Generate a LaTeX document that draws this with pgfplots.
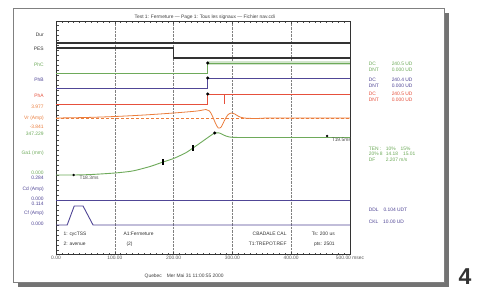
\documentclass[border=0pt]{standalone}
\usepackage{pgfplots}
\pgfplotsset{compat=1.18}
\usepackage{fontspec}
\setmainfont{Liberation Sans}
\definecolor{cgreen}{RGB}{110,170,90}
\definecolor{cpurple}{RGB}{80,70,150}
\definecolor{cred}{RGB}{230,80,60}
\definecolor{corange}{RGB}{235,125,60}
\newcommand{\sm}{\fontsize{4.9}{5.6}\selectfont}
\begin{document}
\begin{tikzpicture}
\path (0pt,0pt) rectangle (479pt,-289pt);
\fill[black!55] (18pt,-13pt) rectangle (449pt,-287pt);
\fill[white] (13pt,-8pt) rectangle (444pt,-282pt);
\draw[black!50, line width=0.6pt] (13pt,-8pt) rectangle (444pt,-282pt);
\node[font=\fontsize{23}{23}\selectfont\bfseries, text=black!80, inner sep=0pt] at (465pt,-277pt) {4};
\begin{axis}[
 scale only axis, width=294pt, height=233pt,
 at={(56pt,-21pt)}, anchor=north west,
 xmin=0, xmax=500, ymin=21, ymax=254, y dir=reverse,
 clip=false,
 axis line style={black!80, line width=0.9pt},
 xtick={0,100,...,500},
 xticklabels={0.00,100.00,200.00,300.00,400.00,500.00 msec},
 minor x tick num=9,
 xtick pos=both, xticklabel pos=bottom,
 xmajorgrids, major grid style={densely dotted, black!50, line width=0.5pt},
 ytick={25,30,...,250}, yticklabels={}, ytick pos=left,
 tick style={black!70, line width=0.4pt},
 major tick length=2.5pt, minor tick length=1.5pt,
 tick label style={font=\sm, text=black!65},
 xticklabel style={yshift=1pt},
]
% digital traces
\addplot[black!80, line width=1.2pt] coordinates {(0,43) (500,43)};
\addplot[black!80, line width=1.2pt] coordinates {(0,48) (200,48) (200,58) (500,58)};
\addplot[cgreen!30, line width=4pt] coordinates {(258,63) (500,63)};
\addplot[cgreen, line width=0.9pt] coordinates {(0,73) (258,73) (258,63) (500,63)};
\addplot[cpurple, line width=0.9pt] coordinates {(0,88) (258,88) (258,78) (500,78)};
\addplot[cred, line width=0.9pt] coordinates {(0,104) (258,104) (258,94) (500,94)};
\addplot[cred, line width=0.9pt] coordinates {(287,94) (287,104)};
\addplot[black, only marks, mark=*, mark size=1.4pt] coordinates {(258,63) (258,78) (258,94) (270,133)};
% Vr
\addplot[corange, densely dashed, line width=0.5pt] coordinates {(0,118) (500,118)};
\addplot[corange, line width=0.8pt, smooth, tension=0.5] coordinates {
(0,118) (50,117.5) (100,116.5) (150,115) (200,113) (240,111) (255,109.5)
(261,111) (266,116) (271,123) (276,128) (281,127) (286,121) (292,115)
(298,113) (304,114) (311,116.5) (320,118) (340,118.5) (360,118) (400,118) (500,118)};
% Ga1 travel
\addplot[cgreen, line width=0.9pt, smooth, tension=0.4] coordinates {
(0,175) (30,175) (60,174.5) (100,173) (130,171) (160,166.5) (182,162) (200,158.5)
(220,153) (233,148) (250,141) (262,136) (270,133) (278,133) (285,135) (295,137)
(320,137.5) (500,137.5)};
\addplot[black, only marks, mark=|, mark size=3pt, line width=1.2pt] coordinates {(182,162) (233,148)};
\addplot[black, only marks, mark=*, mark size=1pt] coordinates {(30,175) (461,136)};
% Cd and Cf
\addplot[cpurple, line width=0.9pt] coordinates {(0,200) (500,200)};
\addplot[cpurple, line width=0.9pt] coordinates {(0,225) (19,225) (31,206) (46,206) (63,225) (500,225)};
% markers text
\node[anchor=west, font=\sm, text=black!70] at (axis cs:34,177.5) {T18.3ms};
\node[anchor=west, font=\sm, text=black!70] at (axis cs:463,140) {T19.5ms};
% title
\node[font=\sm, text=black!75] at (axis cs:253,17) {Test 1: Fermeture --- Page 1: Tous les signaux --- Fichier nav.cdi};
% left labels
\node[anchor=east, font=\sm, text=black!80] at (axis cs:-15,35) {Dur};
\node[anchor=east, font=\sm, text=black!80] at (axis cs:-15,49) {PES};
\node[anchor=east, font=\sm, text=cgreen] at (axis cs:-15,65) {PhC};
\node[anchor=east, font=\sm, text=cpurple] at (axis cs:-15,80) {PhB};
\node[anchor=east, font=\sm, text=cred] at (axis cs:-15,96) {PhA};
\node[anchor=east, font=\sm, text=corange] at (axis cs:-15,107) {3.977};
\node[anchor=east, font=\sm, text=corange] at (axis cs:-15,118) {Vr (Amp)};
\node[anchor=east, font=\sm, text=corange] at (axis cs:-15,127) {-3.841};
\node[anchor=east, font=\sm, text=cgreen] at (axis cs:-15,134) {347.229};
\node[anchor=east, font=\sm, text=cgreen] at (axis cs:-15,153) {Ga1 (mm)};
\node[anchor=east, font=\sm, text=cgreen] at (axis cs:-15,173) {0.000};
\node[anchor=east, font=\sm, text=cpurple] at (axis cs:-15,178) {0.284};
\node[anchor=east, font=\sm, text=cpurple] at (axis cs:-15,189) {Cd (Amp)};
\node[anchor=east, font=\sm, text=cpurple] at (axis cs:-15,199) {0.000};
\node[anchor=east, font=\sm, text=cpurple] at (axis cs:-15,203.5) {0.114};
\node[anchor=east, font=\sm, text=cpurple] at (axis cs:-15,213) {Cf (Amp)};
\node[anchor=east, font=\sm, text=cpurple] at (axis cs:-15,224) {0.000};
% in-plot info
\node[anchor=west, font=\sm, text=black!80] at (axis cs:7,234) {1: cycTSS};
\node[anchor=west, font=\sm, text=black!80] at (axis cs:7,244) {2: avenue};
\node[anchor=west, font=\sm, text=black!80] at (axis cs:109,234) {A1:Fermeture};
\node[anchor=west, font=\sm, text=black!80] at (axis cs:114,244) {(2)};
\node[anchor=east, font=\sm, text=black!80] at (axis cs:398,234) {CBADALE CAL};
\node[anchor=east, font=\sm, text=black!80] at (axis cs:398,244) {T1:TREPOT.REF};
\node[anchor=east, font=\sm, text=black!80] at (axis cs:480,234) {Ts: 200 us};
\node[anchor=east, font=\sm, text=black!80] at (axis cs:480,244) {pts: 2501};
% footer
\node[font=\sm, text=black!75] at (axis cs:218,276) {Quebec\quad Mer Mai 31 11:00:55 2000};
% right panel
\node[anchor=west, font=\sm, text=cgreen, align=left] at (axis cs:526,67) {DC\\DNT};
\node[anchor=west, font=\sm, text=cgreen, align=left] at (axis cs:565,67) {240.5 UD\\0.000 UD};
\node[anchor=west, font=\sm, text=cpurple, align=left] at (axis cs:526,83) {DC\\DNT};
\node[anchor=west, font=\sm, text=cpurple, align=left] at (axis cs:565,83) {240.4 UD\\0.000 UD};
\node[anchor=west, font=\sm, text=cred, align=left] at (axis cs:526,97) {DC\\DNT};
\node[anchor=west, font=\sm, text=cred, align=left] at (axis cs:565,97) {240.5 UD\\0.000 UD};
\node[anchor=west, font=\sm, text=cgreen, align=left] at (axis cs:526,154) {TEN :\\20\% 8\\DF};
\node[anchor=west, font=\sm, text=cgreen, align=left] at (axis cs:555,154) {10\%\quad 15\%\\14.18\quad 15.01\\2.207 m/s};
\node[anchor=west, font=\sm, text=cpurple] at (axis cs:526,210) {DDL\quad 0.104 UDT};
\node[anchor=west, font=\sm, text=cpurple] at (axis cs:526,222) {CKL\quad 10.00 UD};
\end{axis}
\end{tikzpicture}
\end{document}
